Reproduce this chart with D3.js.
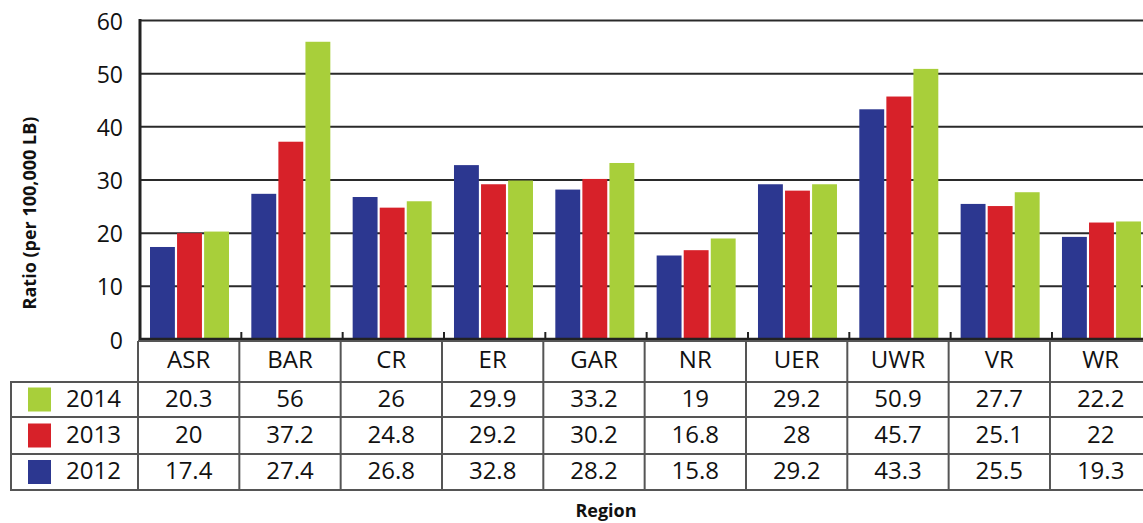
<!DOCTYPE html>
<html>
<head>
<meta charset="utf-8">
<script src="https://cdn.jsdelivr.net/npm/d3@7"></script>
<style>
  body { margin: 0; background: #fff; }
  text { font-family: "Open Sans", sans-serif; fill: #111; }
</style>
</head>
<body>
<div id="chart"></div>
<script>
// data
var regions = ["ASR", "BAR", "CR", "ER", "GAR", "NR", "UER", "UWR", "VR", "WR"];
var years = ["2012", "2013", "2014"];
var values2012 = [17.4, 27.4, 26.8, 32.8, 28.2, 15.8, 29.2, 43.3, 25.5, 19.3];
var values2013 = [20, 37.2, 24.8, 29.2, 30.2, 16.8, 28, 45.7, 25.1, 22];
var values2014 = [20.3, 56, 26, 29.9, 33.2, 19, 29.2, 50.9, 27.7, 22.2];
var yTicks = [0, 10, 20, 30, 40, 50, 60];
var colors = ["#2c3790", "#d72129", "#a8cf3a"];

var series = [values2012, values2013, values2014];
var tableRows = [2, 1, 0]; // table order: 2014, 2013, 2012

var width = 1143, height = 523;

var svg = d3.select("#chart")
  .append("svg")
    .attr("width", width)
    .attr("height", height);

// scales
var x = d3.scaleBand()
  .domain(regions)
  .range([138, 138 + 101.33 * regions.length]);

var x1 = d3.scaleBand()
  .domain(years)
  .range([12, 12 + 79])
  .paddingInner(0.08);

var y = d3.scaleLinear()
  .domain([0, 60])
  .range([339.5, 20.5]);

// gridlines
svg.selectAll(".grid")
  .data(yTicks.filter(d => d > 0))
  .enter()
  .append("line")
    .attr("x1", 140)
    .attr("x2", width)
    .attr("y1", d => y(d))
    .attr("y2", d => y(d))
    .style("stroke", "#2a2a2a")
    .style("stroke-width", 2);

// y tick labels
svg.selectAll(".ylab")
  .data(yTicks)
  .enter()
  .append("text")
    .attr("x", 123)
    .attr("y", d => y(d) + 3)
    .attr("text-anchor", "end")
    .attr("dominant-baseline", "middle")
    .style("font-size", "23px")
    .text(d => d);

// bars
var groups = svg.selectAll(".group")
  .data(regions)
  .enter()
  .append("g")
    .attr("transform", d => "translate(" + x(d) + ",0)");

groups.selectAll("rect")
  .data((d, i) => years.map((yr, j) => ({year: yr, value: series[j][i], j: j})))
  .enter()
  .append("rect")
    .attr("x", d => x1(d.year))
    .attr("width", x1.bandwidth())
    .attr("y", d => y(d.value))
    .attr("height", d => y(0) - y(d.value))
    .style("fill", d => colors[d.j]);

// axes lines
svg.append("line")
  .attr("x1", 140).attr("x2", 140)
  .attr("y1", 19).attr("y2", 340)
  .style("stroke", "#222").style("stroke-width", 3);

svg.append("line")
  .attr("x1", 139).attr("x2", width)
  .attr("y1", 339).attr("y2", 339)
  .style("stroke", "#222").style("stroke-width", 2.5);

// small ticks between categories
svg.selectAll(".xtick")
  .data(regions.slice(1))
  .enter()
  .append("line")
    .attr("x1", d => x(d) + 2).attr("x2", d => x(d) + 2)
    .attr("y1", 332).attr("y2", 339)
    .style("stroke", "#222").style("stroke-width", 2);

// data table
var rowLines = [382, 417, 454, 490];
var tableColor = "#555";

svg.append("line")
  .attr("x1", 138).attr("x2", width)
  .attr("y1", 341).attr("y2", 341)
  .style("stroke", tableColor).style("stroke-width", 2);

svg.selectAll(".rowline")
  .data(rowLines)
  .enter()
  .append("line")
    .attr("x1", 10).attr("x2", width)
    .attr("y1", d => d).attr("y2", d => d)
    .style("stroke", tableColor).style("stroke-width", 2);

svg.append("line")
  .attr("x1", 11).attr("x2", 11)
  .attr("y1", 382).attr("y2", 490)
  .style("stroke", tableColor).style("stroke-width", 2);

svg.selectAll(".colline")
  .data(regions)
  .enter()
  .append("line")
    .attr("x1", d => x(d)).attr("x2", d => x(d))
    .attr("y1", 341).attr("y2", 490)
    .style("stroke", tableColor).style("stroke-width", 2);

// header
svg.selectAll(".head")
  .data(regions)
  .enter()
  .append("text")
    .attr("x", d => x(d) + x.bandwidth() / 2)
    .attr("y", 362)
    .attr("text-anchor", "middle")
    .attr("dominant-baseline", "middle")
    .style("font-size", "24px")
    .text(d => d);

// legend + values per row
tableRows.forEach(function(s, r) {
  var top = rowLines[r], bottom = rowLines[r + 1];
  var mid = (top + bottom) / 2;

  svg.append("rect")
    .attr("x", 28)
    .attr("y", mid - 12)
    .attr("width", 23)
    .attr("height", 24)
    .style("fill", colors[s]);

  svg.append("text")
    .attr("x", 66)
    .attr("y", mid + 1)
    .attr("dominant-baseline", "middle")
    .style("font-size", "24px")
    .text(years[s]);

  svg.selectAll(".val" + s)
    .data(series[s])
    .enter()
    .append("text")
      .attr("x", (d, i) => x(regions[i]) + x.bandwidth() / 2)
      .attr("y", mid + 1)
      .attr("text-anchor", "middle")
      .attr("dominant-baseline", "middle")
      .style("font-size", "24px")
      .text(d => d);
});

// axis titles
svg.append("text")
  .attr("transform", "translate(36,213) rotate(-90)")
  .attr("text-anchor", "middle")
  .style("font-size", "18px")
  .style("font-weight", "bold")
  .text("Ratio (per 100,000 LB)");

svg.append("text")
  .attr("x", 606)
  .attr("y", 517)
  .attr("text-anchor", "middle")
  .style("font-size", "18px")
  .style("font-weight", "bold")
  .text("Region");
</script>
</body>
</html>
